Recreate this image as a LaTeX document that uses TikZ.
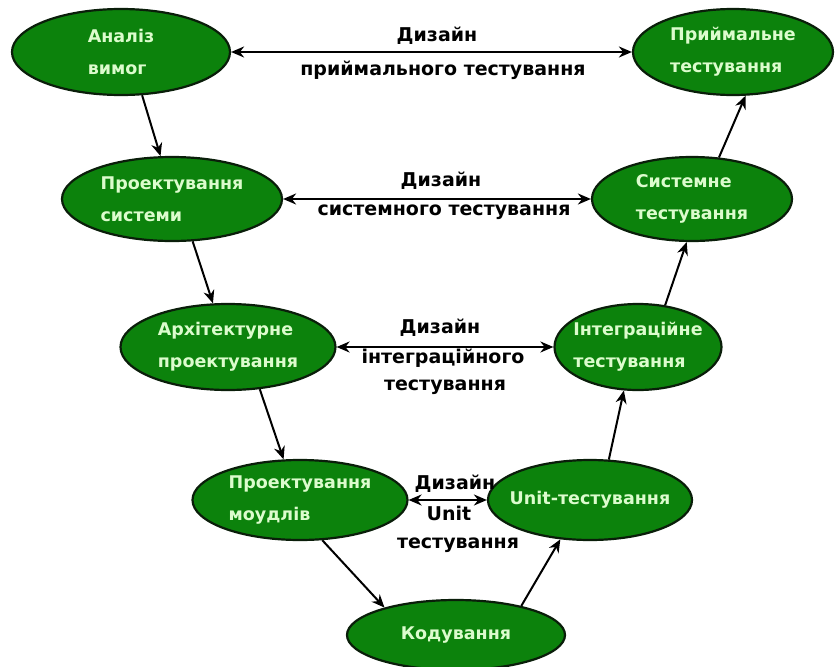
\documentclass[tikz,border=0pt]{standalone}
\usepackage{fontspec}
\setmainfont{DejaVu Sans}
\usetikzlibrary{arrows.meta,shapes.geometric}
\definecolor{stagegreen}{RGB}{12,130,12}
\definecolor{stagetext}{RGB}{220,252,205}
\definecolor{rimdark}{RGB}{10,30,10}
\begin{document}
\begin{tikzpicture}[x=1pt,y=-1pt,
  stage/.style={ellipse, draw=rimdark, line width=2.2pt, fill=stagegreen,
    text=stagetext, font=\bfseries\fontsize{17.5}{32}\selectfont,
    align=left, inner xsep=-16pt, inner ysep=-6pt},
  note/.style={font=\bfseries\fontsize{19}{30}\selectfont, text=black,
    inner sep=0pt, anchor=center},
  flow/.style={-{Stealth[length=13pt,width=11pt]}, line width=2pt, black},
  link/.style={{Stealth[length=13pt,width=11pt]}-{Stealth[length=13pt,width=11pt]},
    line width=2pt, black}]
\useasboundingbox (0,0) rectangle (839,667);

% left branch: design stages
\node[stage, minimum width=218pt, minimum height=86pt] (req)  at (121,52)  {Аналіз\\вимог};
\node[stage, minimum width=220pt, minimum height=84pt] (sys)  at (172,199) {Проектування\\системи};
\node[stage, minimum width=215pt, minimum height=86pt] (arch) at (228,347) {Архітектурне\\проектування};
\node[stage, minimum width=215pt, minimum height=80pt] (mod)  at (300,500) {Проектування\\моудлів};
% bottom
\node[stage, minimum width=218pt, minimum height=70pt] (code) at (456,635) {Кодування};
% right branch: testing stages
\node[stage, minimum width=204pt, minimum height=80pt] (unit) at (590,500) {Unit-тестування};
\node[stage, minimum width=167pt, minimum height=86pt] (integ) at (638,347) {Інтеграційне\\тестування};
\node[stage, minimum width=200pt, minimum height=84pt] (systest) at (692,199) {Системне\\тестування};
\node[stage, minimum width=200pt, minimum height=86pt] (accept) at (733,52) {Приймальне\\тестування};

% the V sequence
\draw[flow] (req.-64)    -- (sys.105);
\draw[flow] (sys.-64)    -- (arch.109);
\draw[flow] (arch.-53)   -- (mod.112);
\draw[flow] (mod.-61)    -- (code.159);
\draw[flow] (code.24)    -- (unit.233);
\draw[flow] (unit.65)    -- (integ.252);
\draw[flow] (integ.57)   -- (systest.263);
\draw[flow] (systest.57) -- (accept.286);

% test design links
\draw[link] (req.east)  -- (accept.west);
\draw[link] (sys.east)  -- (systest.west);
\draw[link] (arch.east) -- (integ.west);
\draw[link] (mod.east)  -- (unit.west);

\node[note] (l1a) at (437,36)  {Дизайн};
\node[note] (l1b) at (443,70)  {приймального тестування};
\node[note] (l2a) at (441,181) {Дизайн};
\node[note] (l2b) at (444,212) {системного тестування};
\node[note] (l3a) at (440,328) {Дизайн};
\node[note] (l3b) at (443,358) {інтеграційного};
\node[note] (l3c) at (445,387) {тестування};
\node[note] (l4a) at (455,484) {Дизайн};
\node[note] (l4b) at (449,513) {Unit};
\node[note] (l4c) at (458,545) {тестування};
\end{tikzpicture}
\end{document}
